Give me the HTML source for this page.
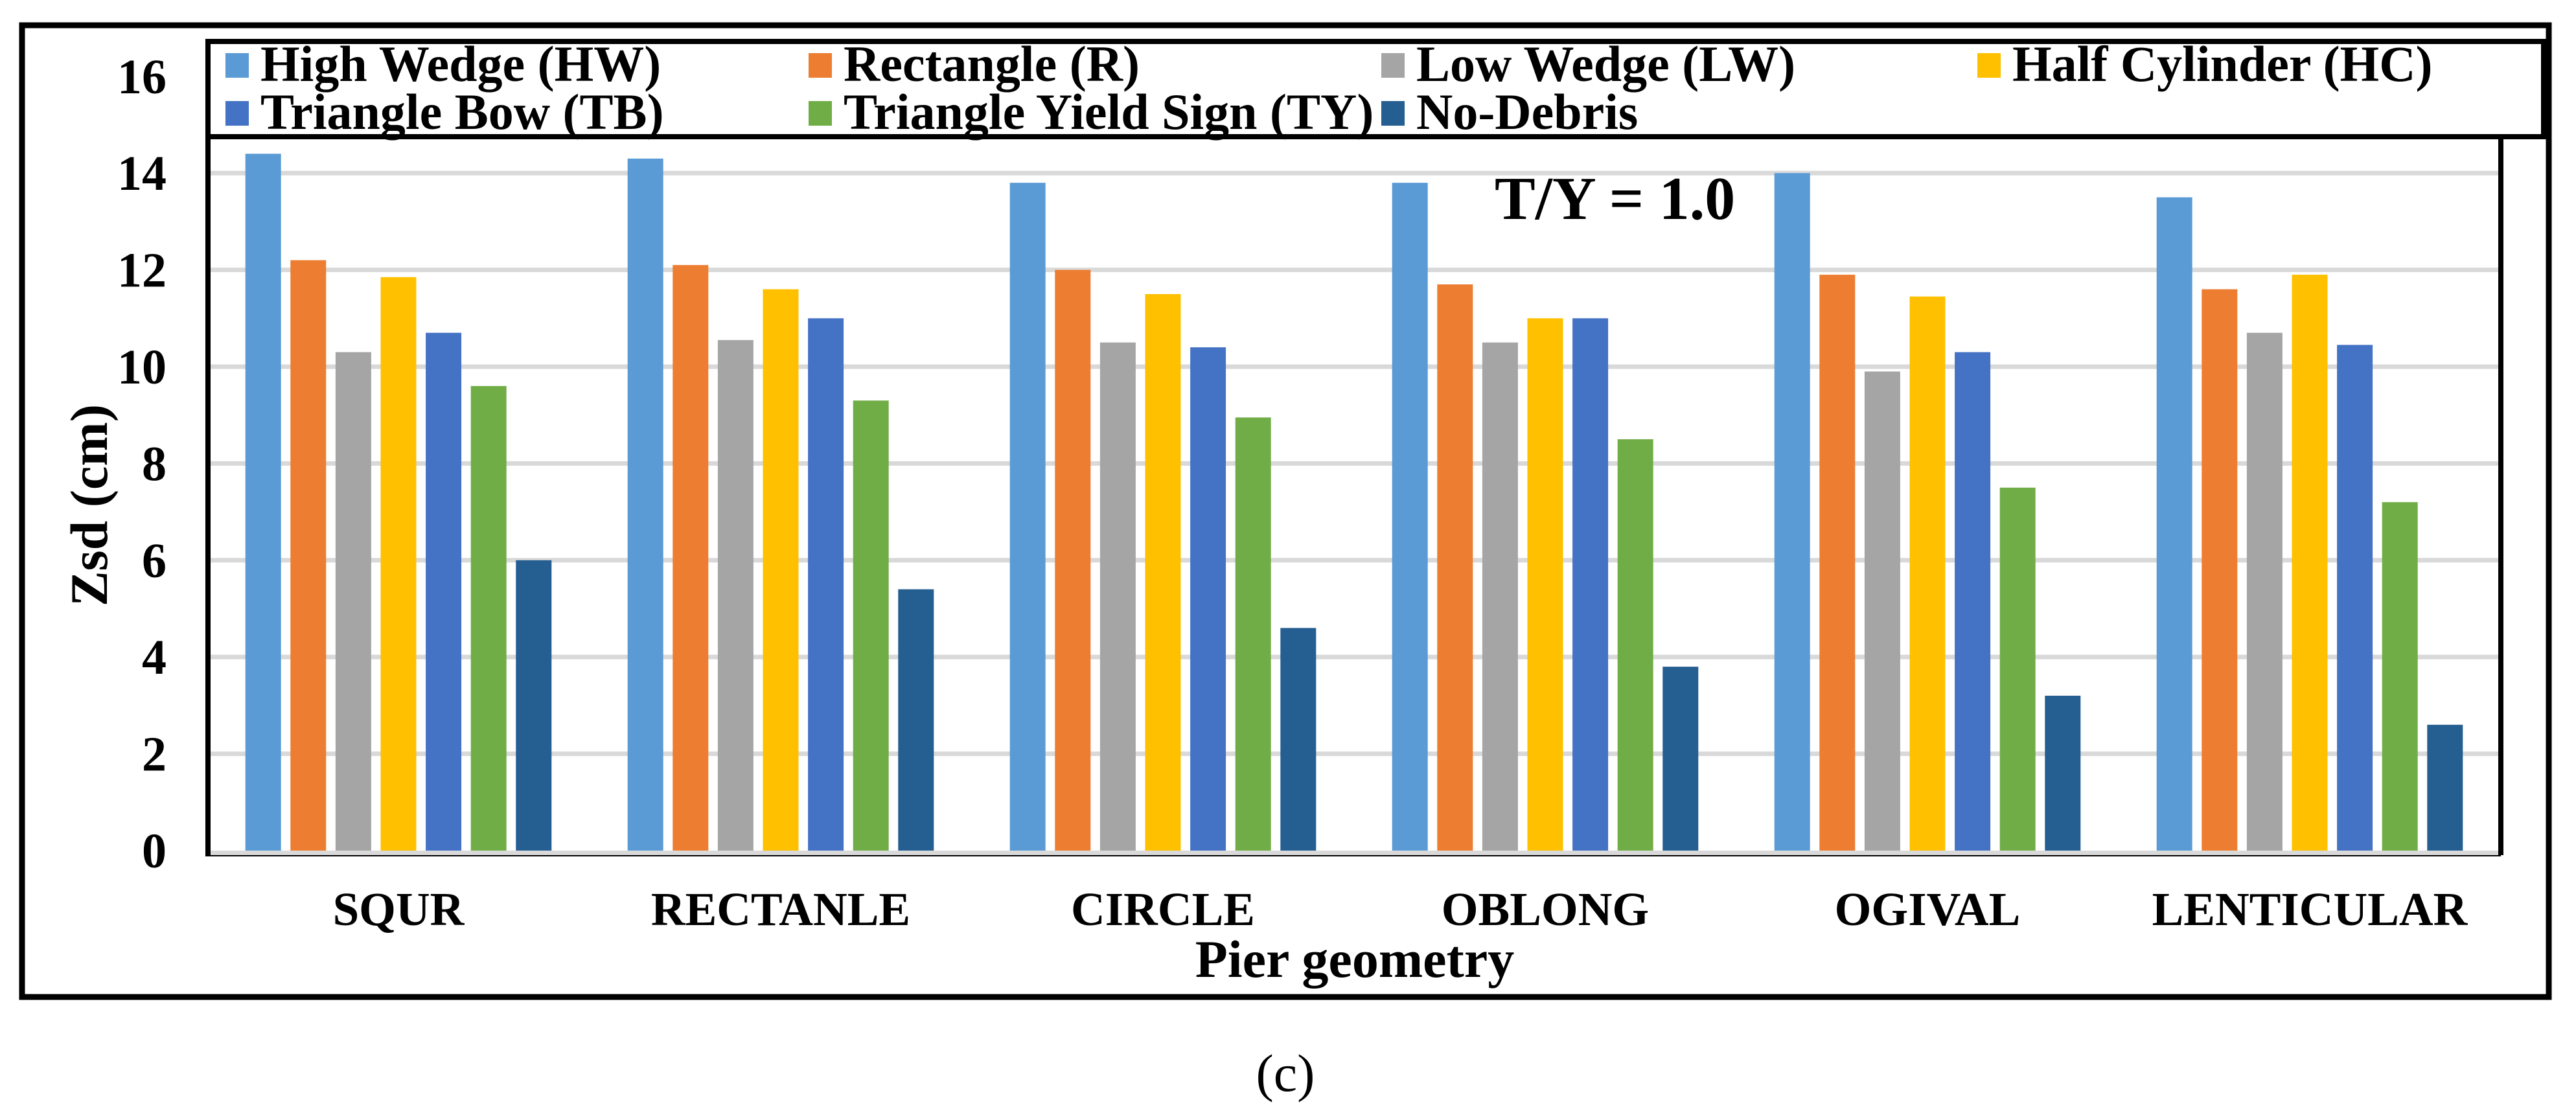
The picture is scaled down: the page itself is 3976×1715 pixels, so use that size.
<!DOCTYPE html>
<html><head><meta charset="utf-8"><style>
html,body{margin:0;padding:0;background:#fff;}
svg{display:block;font-family:"Liberation Serif",serif;}
</style></head><body>
<svg id="chart" width="3976" height="1715" viewBox="0 0 3976 1715" xmlns="http://www.w3.org/2000/svg">
<rect x="34" y="39" width="3900" height="1500" fill="none" stroke="#000" stroke-width="9"/>
<g id="grid"></g>
<g id="bars"></g>
<rect x="322" y="1313" width="3538" height="7" fill="#d9d9d9"/>
<line x1="322" y1="1321" x2="3860" y2="1321" stroke="#000" stroke-width="2"/>
<line x1="321" y1="212" x2="321" y2="1322" stroke="#000" stroke-width="8"/>
<line x1="3860" y1="212" x2="3860" y2="1320" stroke="#000" stroke-width="8"/>
<g id="yticks" font-weight="bold" font-size="76" text-anchor="end"></g>
<g id="xticks" font-weight="bold" font-size="73" text-anchor="middle"></g>
<text transform="translate(165,780) rotate(-90)" text-anchor="middle" font-weight="bold" font-size="82">Zsd (cm)</text>
<text x="2091" y="1508" text-anchor="middle" font-weight="bold" font-size="82">Pier geometry</text>
<text x="2307" y="338" font-weight="bold" font-size="94">T/Y = 1.0</text>
<rect x="321" y="64" width="3605" height="147" fill="#fff" stroke="#000" stroke-width="8"/>
<g id="legend" font-weight="bold" font-size="78"></g>
<text x="1984" y="1684" text-anchor="middle" font-size="82">(c)</text>
</svg>
<script>
const categories = ["SQUR","RECTANLE","CIRCLE","OBLONG","OGIVAL","LENTICULAR"];
const seriesNames = ["High Wedge (HW)","Rectangle (R)","Low Wedge (LW)","Half Cylinder (HC)","Triangle Bow (TB)","Triangle Yield Sign (TY)","No-Debris"];
const hw = [14.4,14.3,13.8,13.8,14.0,13.5];
const rect = [12.2,12.1,12.0,11.7,11.9,11.6];
const lw = [10.3,10.55,10.5,10.5,9.9,10.7];
const hc = [11.85,11.6,11.5,11.0,11.45,11.9];
const tb = [10.7,11.0,10.4,11.0,10.3,10.45];
const ty = [9.6,9.3,8.95,8.5,7.5,7.2];
const noDebris = [6.0,5.4,4.6,3.8,3.2,2.6];
const yTicks = [0,2,4,6,8,10,12,14,16];

const series = [hw,rect,lw,hc,tb,ty,noDebris];
const colors = ["#5B9BD5","#ED7D31","#A5A5A5","#FFC000","#4472C4","#70AD47","#255E91"];
const NS = "http://www.w3.org/2000/svg";
const plotL = 320, plotR = 3860, y0 = 1313, unit = 74.7;
const yScale = v => y0 - v * unit;
const groupW = (plotR - plotL) / categories.length;
const barW = 55, step = 69.6;
const xBar = (ci, si) => plotL + ci * groupW + groupW / 2 - (step * 6 + barW) / 2 + si * step;
function mk(tag, attrs, parent){const e=document.createElementNS(NS,tag);for(const k in attrs)e.setAttribute(k,attrs[k]);parent.appendChild(e);return e;}

const grid = document.getElementById('grid');
const yt = document.getElementById('yticks');
yTicks.forEach(t => {
  if (t > 0 && t < 16) {
    const g = mk('rect', {x: plotL, y: yScale(t) - 3.5, width: plotR - plotL, height: 7, fill: '#d9d9d9'}, grid);
    
    
  }
  const tx = mk('text', {x: 257, y: yScale(t) + 26}, yt);
  tx.textContent = t;
  
  
});

const bars = document.getElementById('bars');
series.forEach((vals, si) => {
  vals.forEach((v, ci) => {
    const r = mk('rect', {x: xBar(ci, si), y: yScale(v), width: barW, height: y0 - yScale(v), fill: colors[si]}, bars);
    
    
  });
});

const xt = document.getElementById('xticks');
categories.forEach((c, ci) => {
  const tx = mk('text', {x: plotL + ci * groupW + groupW / 2, y: 1428}, xt);
  tx.textContent = c;
  
  
});

const lg = document.getElementById('legend');
const colX = [348, 1248, 2132, 3052];
seriesNames.forEach((n, i) => {
  const row = i < 4 ? 0 : 1;
  const col = i < 4 ? i : i - 4;
  const gy = row === 0 ? 82 : 156;
  const g = mk('g', {}, lg);
  
  
  mk('rect', {x: colX[col], y: gy, width: 36, height: 38, fill: colors[i]}, g);
  const t = mk('text', {x: colX[col] + 54, y: gy + 43}, g);
  t.textContent = n;
});
</script>
</body></html>
